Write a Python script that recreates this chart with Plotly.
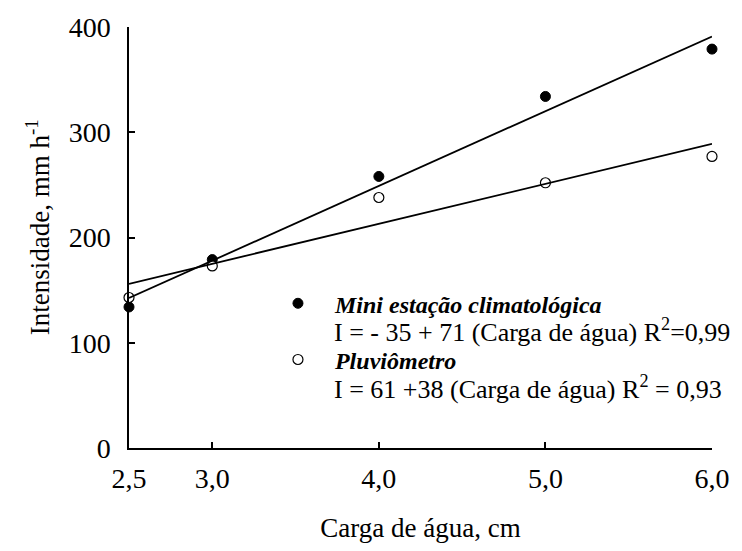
import numpy as np
import plotly.graph_objects as go

# Water head (cm) and measured rainfall intensity (mm/h)
carga = [2.5, 3.0, 4.0, 5.0, 6.0]
mini_estacao = [134, 179, 258, 334, 379]
pluviometro = [143, 173, 238, 252, 277]

# Fitted linear equations: I = a + b * carga
mini_coef = (-35, 71)
pluv_coef = (61, 38)

x_ticks = [2.5, 3.0, 4.0, 5.0, 6.0]
x_ticktext = ["2,5", "3,0", "4,0", "5,0", "6,0"]
y_ticks = [0, 100, 200, 300, 400]

FONT = "Liberation Serif"
x_fit = np.array([min(carga), max(carga)])

# plot area in pixels: x 129..721, y 21.5..448
def px_x(px):
    return (px - 129) / 592

def px_y(py):
    return (448 - py) / 426.5

fig = go.Figure()

fig.add_trace(go.Scatter(
    x=carga, y=mini_estacao, mode="markers",
    name="<b><i>Mini estação climatológica</i></b>", legendgroup="mini",
    marker=dict(symbol="circle", size=10, color="black",
                line=dict(color="black", width=1)),
    cliponaxis=False,
))
fig.add_trace(go.Scatter(
    x=carga, y=pluviometro, mode="markers",
    name="<b><i>Pluviômetro</i></b>", legendgroup="pluv",
    marker=dict(symbol="circle", size=10, color="white",
                line=dict(color="black", width=1.2)),
    cliponaxis=False,
))
for a, b in (mini_coef, pluv_coef):
    fig.add_trace(go.Scatter(
        x=x_fit, y=a + b * x_fit, mode="lines", showlegend=False,
        line=dict(color="black", width=1.8),
    ))

eq_font = dict(family=FONT, size=26, color="black")
fig.add_annotation(
    text="I = - 35 + 71 (Carga de água) R<sup>2</sup>=0,99",
    xref="paper", yref="paper", x=px_x(335), y=px_y(329),
    xanchor="left", yanchor="middle", showarrow=False, font=eq_font,
)
fig.add_annotation(
    text="I = 61 +38 (Carga de água) R<sup>2</sup> = 0,93",
    xref="paper", yref="paper", x=px_x(335), y=px_y(387),
    xanchor="left", yanchor="middle", showarrow=False, font=eq_font,
)
# vertical axis title
fig.add_annotation(
    text="Intensidade, mm h<sup>-1</sup>",
    xref="paper", yref="paper", x=px_x(36), y=px_y(224),
    xanchor="center", yanchor="middle", textangle=-90, showarrow=False,
    font=dict(family=FONT, size=27, color="black"),
)

axis_common = dict(
    showline=True, linecolor="black", linewidth=1.5,
    ticks="inside", ticklen=6, tickwidth=1.5, tickcolor="black",
    showgrid=False, zeroline=False, mirror=False,
    tickfont=dict(family=FONT, size=28, color="black"),
)

fig.update_layout(
    width=742, height=551,
    margin=dict(l=129, r=21, t=21, b=103, pad=0),
    plot_bgcolor="white", paper_bgcolor="white",
    font=dict(family=FONT, size=27, color="black"),
    xaxis=dict(
        range=[2.5, 6.0], tickvals=x_ticks, ticktext=x_ticktext,
        ticklabelstandoff=5,
        title=dict(text="Carga de água, cm", standoff=25,
                   font=dict(family=FONT, size=27)),
        **axis_common,
    ),
    yaxis=dict(
        range=[0, 400], tickvals=y_ticks,
        ticklabelstandoff=11,
        **axis_common,
    ),
    legend=dict(
        x=px_x(298 - 35), y=px_y(279),
        xanchor="left", yanchor="top",
        bgcolor="rgba(0,0,0,0)", borderwidth=0,
        font=dict(family=FONT, size=24, color="black"),
        itemwidth=64, tracegroupgap=22,
    ),
)

fig.write_html("out.html")
